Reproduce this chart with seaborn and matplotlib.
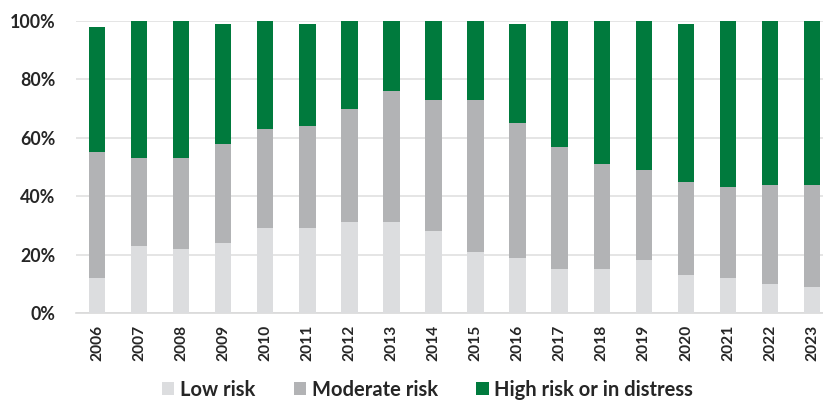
import matplotlib
matplotlib.use("Agg")
import matplotlib.pyplot as plt
import seaborn as sns
import pandas as pd
import numpy as np
from matplotlib.patches import Patch

years = [str(y) for y in range(2006, 2024)]
low_risk = [12, 23, 22, 24, 29, 29, 31, 31, 28, 21, 19, 15, 15, 18, 13, 12, 10, 9]
moderate_risk = [43, 30, 31, 34, 34, 35, 39, 45, 45, 52, 46, 42, 36, 31, 32, 31, 34, 35]
high_risk = [43, 47, 47, 41, 37, 35, 30, 24, 27, 27, 34, 43, 49, 51, 54, 57, 56, 56]
labels = ["Low risk", "Moderate risk", "High risk or in distress"]
colors = ["#DCDDDF", "#B2B3B5", "#007A3D"]

sns.set_theme(style="white")
plt.rcParams['font.family'] = ['Lato', 'DejaVu Sans']

df = pd.DataFrame({"year": years, "low": low_risk, "mod": moderate_risk, "high": high_risk})
df["c1"] = df["low"]
df["c2"] = df["low"] + df["mod"]
df["c3"] = df["c2"] + df["high"]

fig = plt.figure(figsize=(8.23, 4.01), dpi=100)
ax = fig.add_axes([76/823, 1-313/401, 1-76/823, (313-21)/401])

for col, c in zip(["c3", "c2", "c1"], colors[::-1]):
    sns.barplot(data=df, x="year", y=col, color=c, width=0.39, ax=ax,
                saturation=1, linewidth=0, zorder=3)

ax.set_xlim(-0.5, 17.26)
ax.set_ylim(0, 100)
ax.set_yticks([0, 20, 40, 60, 80, 100])
ax.set_yticklabels([f"{v}%" for v in [0, 20, 40, 60, 80, 100]],
                   fontsize=12.8, fontweight="bold", color="#262626")
ax.set_xticks(range(len(years)))
ax.set_xticklabels(years, rotation=90, fontsize=11.2, fontweight="bold", color="#262626")
ax.tick_params(axis="y", length=0, pad=15)
ax.tick_params(axis="x", length=0, pad=8.5)
ax.set_xlabel("")
ax.set_ylabel("")
ax.yaxis.grid(True, color="#E0E0E0", linewidth=1.2, zorder=0)
ax.set_axisbelow(True)
for s in ["left", "right", "top"]:
    ax.spines[s].set_visible(False)
ax.spines["bottom"].set_color("#D9D9D9")
ax.spines["bottom"].set_linewidth(1.2)

handles = [Patch(facecolor=c, edgecolor="none") for c in colors]
fig.legend(handles, labels, loc="center", bbox_to_anchor=(427.5/823, 1-390/401),
           ncol=3, frameon=False, handlelength=0.62, handleheight=0.62,
           handletextpad=0.28, columnspacing=1.9, labelcolor="#262626",
           borderpad=0.1, prop={"size": 14.5, "weight": "bold"})

fig.savefig("out.png", dpi=100)
